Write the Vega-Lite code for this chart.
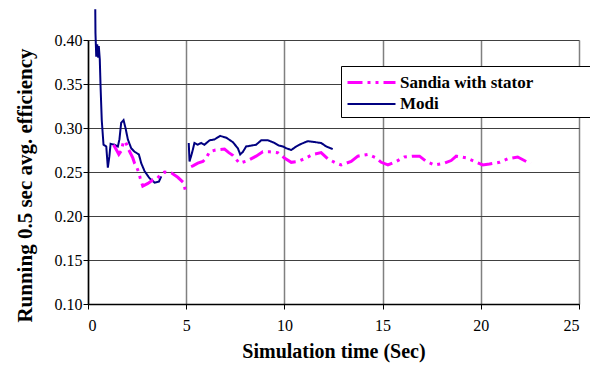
{
  "$schema": "https://vega.github.io/schema/vega-lite/v6.json",
  "width": 491,
  "height": 264,
  "padding": {"left": 88, "top": 40, "right": 11, "bottom": 63},
  "autosize": {"type": "none"},
  "background": "white",
  "config": {
    "view": {"stroke": null},
    "font": "Liberation Serif",
    "axis": {"labelFont": "Liberation Serif", "labelFontSize": 16, "labelColor": "black", "titleFont": "Liberation Serif", "titleFontSize": 20, "titleFontWeight": "bold", "titleColor": "black", "domainColor": "black", "tickColor": "black", "domainWidth": 1.5, "tickWidth": 1},
    "legend": {"labelFont": "Liberation Serif", "labelFontWeight": "bold", "labelFontSize": 17}
  },
  "data": {"values": [
    {"t":0.37,"v":0.435,"s":"Modi","g":"m1"},
    {"t":0.38,"v":0.408,"s":"Modi","g":"m1"},
    {"t":0.42,"v":0.381,"s":"Modi","g":"m1"},
    {"t":0.47,"v":0.395,"s":"Modi","g":"m1"},
    {"t":0.52,"v":0.380,"s":"Modi","g":"m1"},
    {"t":0.55,"v":0.393,"s":"Modi","g":"m1"},
    {"t":0.60,"v":0.378,"s":"Modi","g":"m1"},
    {"t":0.64,"v":0.347,"s":"Modi","g":"m1"},
    {"t":0.70,"v":0.309,"s":"Modi","g":"m1"},
    {"t":0.79,"v":0.281,"s":"Modi","g":"m1"},
    {"t":0.93,"v":0.279,"s":"Modi","g":"m1"},
    {"t":1.01,"v":0.255,"s":"Modi","g":"m1"},
    {"t":1.09,"v":0.268,"s":"Modi","g":"m1"},
    {"t":1.15,"v":0.282,"s":"Modi","g":"m1"},
    {"t":1.35,"v":0.281,"s":"Modi","g":"m1"},
    {"t":1.52,"v":0.279,"s":"Modi","g":"m1"},
    {"t":1.60,"v":0.287,"s":"Modi","g":"m1"},
    {"t":1.69,"v":0.306,"s":"Modi","g":"m1"},
    {"t":1.81,"v":0.309,"s":"Modi","g":"m1"},
    {"t":1.91,"v":0.300,"s":"Modi","g":"m1"},
    {"t":2.03,"v":0.287,"s":"Modi","g":"m1"},
    {"t":2.20,"v":0.277,"s":"Modi","g":"m1"},
    {"t":2.37,"v":0.273,"s":"Modi","g":"m1"},
    {"t":2.59,"v":0.270,"s":"Modi","g":"m1"},
    {"t":2.71,"v":0.260,"s":"Modi","g":"m1"},
    {"t":2.88,"v":0.251,"s":"Modi","g":"m1"},
    {"t":3.13,"v":0.243,"s":"Modi","g":"m1"},
    {"t":3.39,"v":0.238,"s":"Modi","g":"m1"},
    {"t":3.61,"v":0.239,"s":"Modi","g":"m1"},
    {"t":3.73,"v":0.245,"s":"Modi","g":"m1"},
    {"t":5.13,"v":0.283,"s":"Modi","g":"m2"},
    {"t":5.17,"v":0.262,"s":"Modi","g":"m2"},
    {"t":5.30,"v":0.272,"s":"Modi","g":"m2"},
    {"t":5.42,"v":0.283,"s":"Modi","g":"m2"},
    {"t":5.59,"v":0.281,"s":"Modi","g":"m2"},
    {"t":5.76,"v":0.283,"s":"Modi","g":"m2"},
    {"t":5.93,"v":0.281,"s":"Modi","g":"m2"},
    {"t":6.19,"v":0.286,"s":"Modi","g":"m2"},
    {"t":6.44,"v":0.287,"s":"Modi","g":"m2"},
    {"t":6.73,"v":0.291,"s":"Modi","g":"m2"},
    {"t":7.04,"v":0.289,"s":"Modi","g":"m2"},
    {"t":7.37,"v":0.284,"s":"Modi","g":"m2"},
    {"t":7.63,"v":0.277,"s":"Modi","g":"m2"},
    {"t":7.75,"v":0.270,"s":"Modi","g":"m2"},
    {"t":7.89,"v":0.273,"s":"Modi","g":"m2"},
    {"t":8.05,"v":0.279,"s":"Modi","g":"m2"},
    {"t":8.31,"v":0.280,"s":"Modi","g":"m2"},
    {"t":8.56,"v":0.281,"s":"Modi","g":"m2"},
    {"t":8.82,"v":0.286,"s":"Modi","g":"m2"},
    {"t":9.16,"v":0.286,"s":"Modi","g":"m2"},
    {"t":9.50,"v":0.283,"s":"Modi","g":"m2"},
    {"t":9.72,"v":0.280,"s":"Modi","g":"m2"},
    {"t":9.92,"v":0.279,"s":"Modi","g":"m2"},
    {"t":10.09,"v":0.277,"s":"Modi","g":"m2"},
    {"t":10.35,"v":0.275,"s":"Modi","g":"m2"},
    {"t":10.60,"v":0.279,"s":"Modi","g":"m2"},
    {"t":10.86,"v":0.282,"s":"Modi","g":"m2"},
    {"t":11.19,"v":0.285,"s":"Modi","g":"m2"},
    {"t":11.54,"v":0.284,"s":"Modi","g":"m2"},
    {"t":11.87,"v":0.283,"s":"Modi","g":"m2"},
    {"t":12.13,"v":0.279,"s":"Modi","g":"m2"},
    {"t":12.46,"v":0.276,"s":"Modi","g":"m2"},
    {"t":1.30,"v":0.281,"s":"Sandia with stator","g":"s1"},
    {"t":1.50,"v":0.273,"s":"Sandia with stator","g":"s1"},
    {"t":1.57,"v":0.270,"s":"Sandia with stator","g":"s1"},
    {"t":1.69,"v":0.274,"s":"Sandia with stator","g":"s1"},
    {"t":1.80,"v":0.284,"s":"Sandia with stator","g":"s1"},
    {"t":1.90,"v":0.285,"s":"Sandia with stator","g":"s1"},
    {"t":2.08,"v":0.275,"s":"Sandia with stator","g":"s1"},
    {"t":2.28,"v":0.266,"s":"Sandia with stator","g":"s1"},
    {"t":2.37,"v":0.260,"s":"Sandia with stator","g":"s1"},
    {"t":2.49,"v":0.255,"s":"Sandia with stator","g":"s1"},
    {"t":2.59,"v":0.249,"s":"Sandia with stator","g":"s1"},
    {"t":2.66,"v":0.243,"s":"Sandia with stator","g":"s1"},
    {"t":2.79,"v":0.234,"s":"Sandia with stator","g":"s1"},
    {"t":3.05,"v":0.237,"s":"Sandia with stator","g":"s1"},
    {"t":3.30,"v":0.241,"s":"Sandia with stator","g":"s1"},
    {"t":3.50,"v":0.242,"s":"Sandia with stator","g":"s1"},
    {"t":3.73,"v":0.248,"s":"Sandia with stator","g":"s1"},
    {"t":3.90,"v":0.250,"s":"Sandia with stator","g":"s1"},
    {"t":4.24,"v":0.249,"s":"Sandia with stator","g":"s1"},
    {"t":4.57,"v":0.244,"s":"Sandia with stator","g":"s1"},
    {"t":4.86,"v":0.238,"s":"Sandia with stator","g":"s1"},
    {"t":4.96,"v":0.229,"s":"Sandia with stator","g":"s1"},
    {"t":5.25,"v":0.256,"s":"Sandia with stator","g":"s2"},
    {"t":5.34,"v":0.257,"s":"Sandia with stator","g":"s2"},
    {"t":5.59,"v":0.260,"s":"Sandia with stator","g":"s2"},
    {"t":5.85,"v":0.262,"s":"Sandia with stator","g":"s2"},
    {"t":6.02,"v":0.266,"s":"Sandia with stator","g":"s2"},
    {"t":6.19,"v":0.273,"s":"Sandia with stator","g":"s2"},
    {"t":6.49,"v":0.275,"s":"Sandia with stator","g":"s2"},
    {"t":6.95,"v":0.276,"s":"Sandia with stator","g":"s2"},
    {"t":7.17,"v":0.272,"s":"Sandia with stator","g":"s2"},
    {"t":7.37,"v":0.269,"s":"Sandia with stator","g":"s2"},
    {"t":7.71,"v":0.260,"s":"Sandia with stator","g":"s2"},
    {"t":8.14,"v":0.263,"s":"Sandia with stator","g":"s2"},
    {"t":8.56,"v":0.268,"s":"Sandia with stator","g":"s2"},
    {"t":8.90,"v":0.273,"s":"Sandia with stator","g":"s2"},
    {"t":9.24,"v":0.273,"s":"Sandia with stator","g":"s2"},
    {"t":9.66,"v":0.272,"s":"Sandia with stator","g":"s2"},
    {"t":10.00,"v":0.266,"s":"Sandia with stator","g":"s2"},
    {"t":10.35,"v":0.261,"s":"Sandia with stator","g":"s2"},
    {"t":10.68,"v":0.262,"s":"Sandia with stator","g":"s2"},
    {"t":11.02,"v":0.265,"s":"Sandia with stator","g":"s2"},
    {"t":11.45,"v":0.270,"s":"Sandia with stator","g":"s2"},
    {"t":11.87,"v":0.272,"s":"Sandia with stator","g":"s2"},
    {"t":12.21,"v":0.265,"s":"Sandia with stator","g":"s2"},
    {"t":12.64,"v":0.260,"s":"Sandia with stator","g":"s2"},
    {"t":12.89,"v":0.258,"s":"Sandia with stator","g":"s2"},
    {"t":13.40,"v":0.262,"s":"Sandia with stator","g":"s2"},
    {"t":13.74,"v":0.268,"s":"Sandia with stator","g":"s2"},
    {"t":14.25,"v":0.270,"s":"Sandia with stator","g":"s2"},
    {"t":14.67,"v":0.266,"s":"Sandia with stator","g":"s2"},
    {"t":14.93,"v":0.261,"s":"Sandia with stator","g":"s2"},
    {"t":15.27,"v":0.258,"s":"Sandia with stator","g":"s2"},
    {"t":15.69,"v":0.262,"s":"Sandia with stator","g":"s2"},
    {"t":16.11,"v":0.267,"s":"Sandia with stator","g":"s2"},
    {"t":16.54,"v":0.268,"s":"Sandia with stator","g":"s2"},
    {"t":16.88,"v":0.268,"s":"Sandia with stator","g":"s2"},
    {"t":17.22,"v":0.262,"s":"Sandia with stator","g":"s2"},
    {"t":17.64,"v":0.258,"s":"Sandia with stator","g":"s2"},
    {"t":18.15,"v":0.260,"s":"Sandia with stator","g":"s2"},
    {"t":18.49,"v":0.263,"s":"Sandia with stator","g":"s2"},
    {"t":18.75,"v":0.268,"s":"Sandia with stator","g":"s2"},
    {"t":19.26,"v":0.266,"s":"Sandia with stator","g":"s2"},
    {"t":19.68,"v":0.262,"s":"Sandia with stator","g":"s2"},
    {"t":20.10,"v":0.258,"s":"Sandia with stator","g":"s2"},
    {"t":20.44,"v":0.259,"s":"Sandia with stator","g":"s2"},
    {"t":20.95,"v":0.261,"s":"Sandia with stator","g":"s2"},
    {"t":21.37,"v":0.265,"s":"Sandia with stator","g":"s2"},
    {"t":21.88,"v":0.267,"s":"Sandia with stator","g":"s2"},
    {"t":22.39,"v":0.261,"s":"Sandia with stator","g":"s2"},
    {"t":22.55,"v":0.260,"s":"Sandia with stator","g":"s2"}
  ]},
  "mark": {"type": "line", "clip": false, "strokeCap": "butt", "interpolate": "linear"},
  "encoding": {
    "x": {"field": "t", "type": "quantitative",
      "scale": {"domain": [0, 25], "nice": false, "zero": false},
      "axis": {"title": "Simulation time (Sec)", "values": [0,5,10,15,20,25], "grid": true, "gridColor": "#808080", "gridWidth": 1.5, "tickSize": 5, "labelPadding": 8, "titlePadding": 8, "format": "d", "labelFont": "Liberation Serif", "labelFontSize": 16}},
    "y": {"field": "v", "type": "quantitative",
      "scale": {"domain": [0.1, 0.4], "nice": false, "zero": false},
      "axis": {"title": "Running 0.5 sec avg. efficiency", "values": [0.1,0.15,0.2,0.25,0.3,0.35,0.4], "format": ".2f", "grid": true, "gridColor": "#404040", "gridWidth": 1, "tickSize": 5, "labelPadding": 1, "titleFontSize": 21, "titleX": -53, "titleY": 145, "labelFont": "Liberation Serif", "labelFontSize": 16}},
    "detail": {"field": "g"},
    "color": {"field": "s", "type": "nominal",
      "scale": {"domain": ["Sandia with stator", "Modi"], "range": ["#FF00FF", "#000080"]},
      "legend": {"title": null, "orient": "none", "legendX": 253, "legendY": 26, "fillColor": "white", "strokeColor": "black", "padding": 5, "symbolType": "M-2.4,0H2.4", "symbolSize": 400, "symbolStrokeWidth": 3, "symbolOffset": 14, "labelFont": "Liberation Serif", "labelFontWeight": "bold", "labelFontSize": 17, "labelColor": "black", "rowPadding": 2, "labelOffset": 17, "labelLimit": 400, "labelExpr": "datum.label + '\u2800\u2800\u2800\u2800\u2800\u2800'"}},
    "strokeDash": {"field": "s", "type": "nominal",
      "scale": {"domain": ["Sandia with stator", "Modi"], "range": [[15,5,3,5,3,5],[1,0]]}},
    "strokeWidth": {"field": "s", "type": "nominal",
      "scale": {"domain": ["Sandia with stator", "Modi"], "range": [3, 2]}, "legend": null}
  }
}
